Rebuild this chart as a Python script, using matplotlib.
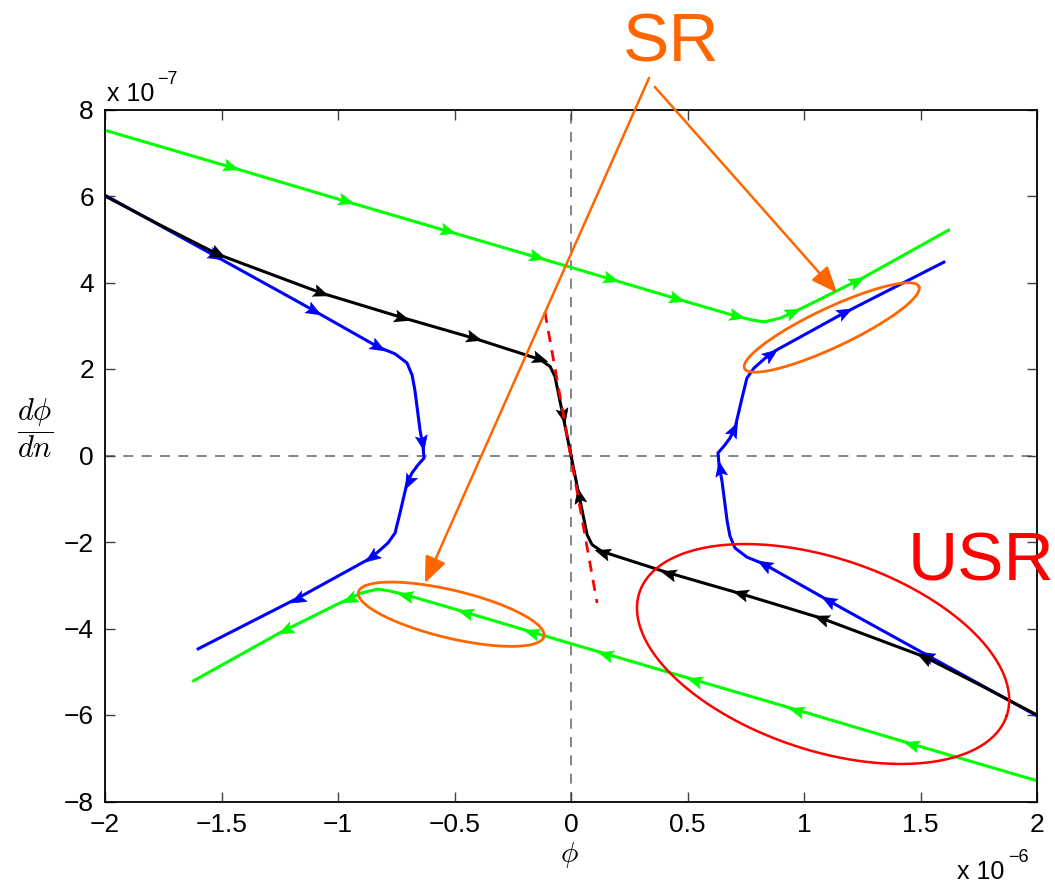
import numpy as np
import matplotlib
matplotlib.use("Agg")
import matplotlib.pyplot as plt
from matplotlib.markers import MarkerStyle
from matplotlib.transforms import Affine2D

plt.rcParams['font.family'] = ['Liberation Sans', 'DejaVu Sans']
plt.rcParams['mathtext.fontset'] = 'cm'

# trajectories: phi in units of 1e-6, dphi/dn in units of 1e-7 (flow order)
green_up_x = [-2.0, -1.5, -1.0, -0.5, 0.0, 0.5, 0.71, 0.78, 0.83, 0.9, 1.0, 1.25, 1.62]
green_up_y = [7.52, 6.73, 5.93, 5.14, 4.35, 3.55, 3.22, 3.13, 3.09, 3.18, 3.43, 4.1, 5.21]
green_lo_x = [2.0, 1.5, 1.0, 0.5, 0.0, -0.5, -0.71, -0.78, -0.83, -0.9, -1.0, -1.25, -1.62]
green_lo_y = [-7.52, -6.73, -5.93, -5.14, -4.35, -3.55, -3.22, -3.13, -3.09, -3.18, -3.43, -4.1, -5.21]

blue_l_x = [-2.0, -1.163, -0.828, -0.755, -0.704, -0.682, -0.67, -0.648, -0.635, -0.631,
            -0.657, -0.682, -0.704, -0.734, -0.755, -0.785, -0.833, -0.876, -1.163, -1.6]
blue_l_y = [6.02, 3.53, 2.51, 2.35, 2.14, 1.86, 1.51, 0.59, 0.2, -0.06,
            -0.22, -0.4, -0.64, -1.33, -1.79, -2.02, -2.25, -2.42, -3.27, -4.47]
blue_r_x = [2.0, 1.163, 0.828, 0.755, 0.704, 0.682, 0.67, 0.648, 0.635, 0.631,
            0.657, 0.682, 0.704, 0.734, 0.755, 0.785, 0.833, 0.876, 1.163, 1.6]
blue_r_y = [-6.02, -3.53, -2.51, -2.35, -2.14, -1.86, -1.51, -0.59, -0.2, 0.06,
            0.22, 0.4, 0.64, 1.33, 1.79, 2.02, 2.25, 2.42, 3.27, 4.47]

black_l_x = [-2.0, -1.764, -1.515, -1.073, -0.725, -0.416, -0.133, -0.09, -0.069, -0.034, 0.0]
black_l_y = [6.0, 5.33, 4.65, 3.76, 3.19, 2.71, 2.22, 2.06, 1.83, 0.91, 0.0]
black_r_x = [2.0, 1.764, 1.515, 1.073, 0.725, 0.416, 0.133, 0.09, 0.069, 0.034, 0.0]
black_r_y = [-6.0, -5.33, -4.65, -3.76, -3.19, -2.71, -2.22, -2.06, -1.83, -0.91, 0.0]

# eigen-direction (red dashed)
eig_x = [-0.112, 0.112]
eig_y = [3.32, -3.41]

# arrow positions on each trajectory
green_up_arr = [(-1.464, 6.6), (-0.97, 5.8), (-0.532, 5.1), (-0.146, 4.6), (0.172, 4.1),
                (0.455, 3.6), (0.712, 3.2), (0.953, 3.3), (1.227, 4.05)]
green_lo_arr = [(-x, -y) for x, y in green_up_arr]
blue_l_arr = [(-1.528, 4.57), (-1.107, 3.32), (-0.828, 2.51), (-0.64, 0.29),
              (-0.7, -0.61), (-0.854, -2.37), (-1.18, -3.29)]
blue_r_arr = [(-x, -y) for x, y in blue_l_arr]
black_l_arr = [(-1.515, 4.65), (-1.073, 3.76), (-0.725, 3.19), (-0.416, 2.71),
               (-0.133, 2.22), (-0.034, 0.91)]
black_r_arr = [(-x, -y) for x, y in black_l_arr]

# annotation ellipses: centre and two conjugate semi-axes
sr1_c, sr1_u, sr1_v = (1.119, 2.96), (0.374, 0.948), (0.036, -0.412)
sr2_c, sr2_u, sr2_v = (-0.514, -3.67), (0.398, -0.514), (-0.024, -0.537)
usr_c, usr_u, usr_v = (1.082, -4.59), (0.788, -1.427), (-0.131, -2.104)

xticks = [-2, -1.5, -1, -0.5, 0, 0.5, 1, 1.5, 2]
xticklabels = ['\u22122', '\u22121.5', '\u22121', '\u22120.5', '0', '0.5', '1', '1.5', '2']
yticks = [-8, -6, -4, -2, 0, 2, 4, 6, 8]
yticklabels = ['\u22128', '\u22126', '\u22124', '\u22122', '0', '2', '4', '6', '8']

orange = '#ff6600'

fig = plt.figure(figsize=(10.55, 8.83), dpi=100)
ax = fig.add_axes([105 / 1055, 1 - 801.5 / 883, 932 / 1055, 692 / 883])
ax.set_xlim(-2, 2)
ax.set_ylim(-8, 8)

ax.axhline(0, color='#707070', lw=1.2, ls=(0, (6, 5)), zorder=1)
ax.axvline(0, color='#707070', lw=1.2, ls=(0, (6, 5)), zorder=1)

lw = 2.2
ax.plot(green_up_x, green_up_y, color='#00ff00', lw=lw, zorder=2)
ax.plot(green_lo_x, green_lo_y, color='#00ff00', lw=lw, zorder=2)
ax.plot(blue_l_x, blue_l_y, color='#0000ff', lw=lw, zorder=3)
ax.plot(blue_r_x, blue_r_y, color='#0000ff', lw=lw, zorder=3)
ax.plot(black_l_x, black_l_y, color='black', lw=lw, zorder=4)
ax.plot(black_r_x, black_r_y, color='black', lw=lw, zorder=4)
ax.plot(eig_x, eig_y, color='#ff0000', lw=2.0, ls=(0, (4, 3)), zorder=5)

head = [(1, 0), (-1, 0.8), (-0.6, 0), (-1, -0.8)]


def flow_arrows(xs, ys, pts, color, z):
    P = ax.transData.transform(np.column_stack([xs, ys]))
    for p in pts:
        q = ax.transData.transform(p)
        best = None
        for i in range(len(P) - 1):
            a, b = P[i], P[i + 1]
            d = b - a
            t = np.clip(np.dot(q - a, d) / np.dot(d, d), 0, 1)
            proj = a + t * d
            dist = np.hypot(*(q - proj))
            if best is None or dist < best[0]:
                best = (dist, proj, d)
        _, proj, d = best
        ang = np.arctan2(d[1], d[0])
        m = MarkerStyle(head, transform=Affine2D().rotate(ang))
        xy = ax.transData.inverted().transform(proj)
        ax.plot(xy[0], xy[1], marker=m, ms=11, color=color, mec=color, mew=0.5,
                ls='none', zorder=z)


flow_arrows(green_up_x, green_up_y, green_up_arr, '#00ff00', 2)
flow_arrows(green_lo_x, green_lo_y, green_lo_arr, '#00ff00', 2)
flow_arrows(blue_l_x, blue_l_y, blue_l_arr, '#0000ff', 3)
flow_arrows(blue_r_x, blue_r_y, blue_r_arr, '#0000ff', 3)
flow_arrows(black_l_x, black_l_y, black_l_arr, 'black', 4)
flow_arrows(black_r_x, black_r_y, black_r_arr, 'black', 4)


def ellipse(c, u, v, color, width):
    t = np.linspace(0, 2 * np.pi, 300)
    ex = c[0] + u[0] * np.cos(t) + v[0] * np.sin(t)
    ey = c[1] + u[1] * np.cos(t) + v[1] * np.sin(t)
    ax.plot(ex, ey, color=color, lw=width, zorder=6)


ellipse(sr1_c, sr1_u, sr1_v, orange, 2.0)
ellipse(sr2_c, sr2_u, sr2_v, orange, 2.0)
ellipse(usr_c, usr_u, usr_v, '#ff0000', 1.8)

# SR / USR labels and pointers
ax.text(0.43, 9.12, 'SR', color=orange, fontsize=50, ha='center', va='baseline', clip_on=False)
ax.text(1.76, -2.88, 'USR', color='#ff0000', fontsize=50, ha='center', va='baseline', clip_on=False)
arrow_kw = dict(arrowstyle='-|>,head_length=0.8,head_width=0.33', color=orange, lw=1.8,
                shrinkA=0, shrinkB=0, mutation_scale=20)
ax.annotate('', xy=(-0.627, -2.95), xytext=(0.335, 8.73), arrowprops=arrow_kw, zorder=7,
            annotation_clip=False)
ax.annotate('', xy=(1.142, 3.76), xytext=(0.36, 8.52), arrowprops=arrow_kw, zorder=7,
            annotation_clip=False)

ax.set_xticks(xticks)
ax.set_xticklabels(xticklabels)
ax.set_yticks(yticks)
ax.set_yticklabels(yticklabels)
ax.tick_params(direction='in', length=7, width=1, top=True, right=True, color='#404040',
               labelsize=19, pad=8)
for s in ax.spines.values():
    s.set_linewidth(1.3)

# MATLAB-style exponent labels
fig.text(107 / 1055, 1 - 101 / 883, 'x 10', fontsize=18, ha='left', va='baseline')
fig.text(157 / 1055, 1 - 84 / 883, '\u22127', fontsize=13, ha='left', va='baseline')
fig.text(957 / 1055, 1 - 879 / 883, 'x 10', fontsize=18, ha='left', va='baseline')
fig.text(1008 / 1055, 1 - 862 / 883, '\u22126', fontsize=13, ha='left', va='baseline')

fig.text(569 / 1055, 1 - 855 / 883, r'$\phi$', fontsize=21, ha='center', va='center')
fig.text(35 / 1055, 1 - 428 / 883, r'$\dfrac{d\phi}{dn}$', fontsize=22, ha='center', va='center')

fig.savefig('out.png', dpi=100)
